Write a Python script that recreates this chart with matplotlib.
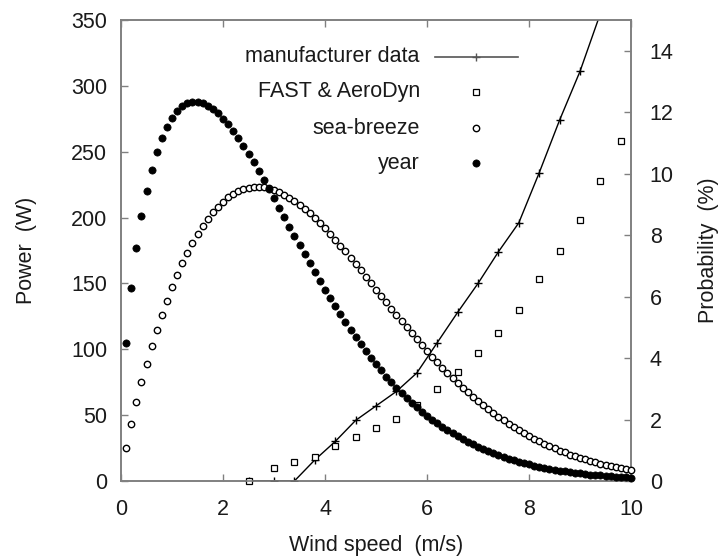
import matplotlib
matplotlib.use("Agg")
import matplotlib.pyplot as plt

plt.rcParams['font.family'] = ['Liberation Sans', 'DejaVu Sans']

# ---------------- data ----------------
dist_speed = [0.1, 0.2, 0.3, 0.4, 0.5, 0.6, 0.7, 0.8, 0.9, 1.0,
              1.1, 1.2, 1.3, 1.4, 1.5, 1.6, 1.7, 1.8, 1.9, 2.0,
              2.1, 2.2, 2.3, 2.4, 2.5, 2.6, 2.7, 2.8, 2.9, 3.0,
              3.1, 3.2, 3.3, 3.4, 3.5, 3.6, 3.7, 3.8, 3.9, 4.0,
              4.1, 4.2, 4.3, 4.4, 4.5, 4.6, 4.7, 4.8, 4.9, 5.0,
              5.1, 5.2, 5.3, 5.4, 5.5, 5.6, 5.7, 5.8, 5.9, 6.0,
              6.1, 6.2, 6.3, 6.4, 6.5, 6.6, 6.7, 6.8, 6.9, 7.0,
              7.1, 7.2, 7.3, 7.4, 7.5, 7.6, 7.7, 7.8, 7.9, 8.0,
              8.1, 8.2, 8.3, 8.4, 8.5, 8.6, 8.7, 8.8, 8.9, 9.0,
              9.1, 9.2, 9.3, 9.4, 9.5, 9.6, 9.7, 9.8, 9.9, 10.0]

year_prob = [4.49, 6.28, 7.59, 8.61, 9.45, 10.13, 10.69, 11.15, 11.52, 11.81,
             12.03, 12.19, 12.29, 12.33, 12.33, 12.29, 12.21, 12.10, 11.96, 11.79,
             11.60, 11.38, 11.15, 10.90, 10.64, 10.37, 10.08, 9.79, 9.50, 9.20,
             8.89, 8.59, 8.28, 7.98, 7.68, 7.38, 7.08, 6.79, 6.50, 6.22,
             5.95, 5.68, 5.42, 5.16, 4.92, 4.68, 4.45, 4.22, 4.00, 3.80,
             3.60, 3.40, 3.22, 3.04, 2.87, 2.71, 2.55, 2.40, 2.26, 2.13,
             2.00, 1.88, 1.76, 1.65, 1.55, 1.45, 1.36, 1.27, 1.19, 1.11,
             1.04, 0.97, 0.90, 0.84, 0.78, 0.73, 0.68, 0.63, 0.58, 0.54,
             0.50, 0.47, 0.43, 0.40, 0.37, 0.34, 0.32, 0.29, 0.27, 0.25,
             0.23, 0.21, 0.20, 0.18, 0.17, 0.15, 0.14, 0.13, 0.12, 0.11]

seabreeze_prob = [1.08, 1.87, 2.57, 3.22, 3.82, 4.39, 4.91, 5.41, 5.87, 6.31,
                  6.71, 7.08, 7.43, 7.75, 8.04, 8.30, 8.54, 8.75, 8.93, 9.09,
                  9.23, 9.34, 9.43, 9.50, 9.54, 9.56, 9.57, 9.55, 9.52, 9.47,
                  9.40, 9.32, 9.22, 9.11, 8.99, 8.86, 8.71, 8.55, 8.39, 8.22,
                  8.04, 7.85, 7.66, 7.47, 7.27, 7.06, 6.86, 6.65, 6.44, 6.23,
                  6.03, 5.82, 5.61, 5.41, 5.20, 5.00, 4.80, 4.61, 4.42, 4.23,
                  4.05, 3.87, 3.69, 3.52, 3.36, 3.19, 3.04, 2.89, 2.74, 2.60,
                  2.46, 2.33, 2.21, 2.08, 1.97, 1.86, 1.75, 1.65, 1.55, 1.46,
                  1.37, 1.29, 1.21, 1.13, 1.06, 0.99, 0.93, 0.86, 0.81, 0.75,
                  0.70, 0.65, 0.61, 0.56, 0.52, 0.49, 0.45, 0.42, 0.39, 0.36]

mfr_speed = [2.5, 3.0, 3.4, 3.8, 4.2, 4.6, 5.0, 5.4, 5.8, 6.2, 6.6, 7.0, 7.4, 7.8, 8.2, 8.6, 9.0, 9.4]
mfr_power = [0, 0, 0, 16, 30, 46, 57, 68, 82, 105, 128, 150, 174, 196, 234, 274, 311, 355]

fast_speed = [2.5, 3.0, 3.4, 3.8, 4.2, 4.6, 5.0, 5.4, 5.8, 6.2, 6.6, 7.0, 7.4, 7.8, 8.2, 8.6, 9.0, 9.4, 9.8]
fast_power = [0, 10, 14.6, 18.6, 26.5, 33.5, 40.6, 47.2, 57.5, 70, 82.7, 97, 112.5, 129.6, 153, 175, 198, 228, 258]

x_ticks = [0, 2, 4, 6, 8, 10]
power_ticks = [0, 50, 100, 150, 200, 250, 300, 350]
prob_ticks = [0, 2, 4, 6, 8, 10, 12, 14]

labels = ["manufacturer data", "FAST & AeroDyn", "sea-breeze", "year"]

# ---------------- styles ----------------
FS = 15.5
axis_col = '#808080'
txt_col = '#1a1a1a'

fig = plt.figure(figsize=(7.26, 5.60), dpi=100)
ax = fig.add_axes([121/726, 1 - 481/560, 510/726, 461/560])
ax2 = ax.twinx()

st_mfr = dict(color='black', lw=1.0, marker='+', ms=6, mew=1.0)
st_fast = dict(ls='none', marker='s', ms=5, mfc='white', mec='black', mew=0.9)
st_sea = dict(ls='none', marker='o', ms=4.6, mfc='white', mec='black', mew=1.0)
st_year = dict(ls='none', marker='o', ms=5.2, mfc='black', mec='black', mew=0.5)

ax.plot(mfr_speed, mfr_power, **st_mfr, zorder=3)
ax.plot(fast_speed, fast_power, **st_fast, clip_on=False, zorder=3)
ax2.plot(dist_speed, seabreeze_prob, **st_sea, clip_on=False, zorder=3)
ax2.plot(dist_speed, year_prob, **st_year, clip_on=False, zorder=4)

ax.set_xlim(0, 10)
ax.set_ylim(0, 350)
ax2.set_ylim(0, 15)

ax.set_xticks(x_ticks)
ax.set_yticks(power_ticks)
ax2.set_yticks(prob_ticks)

for a in (ax, ax2):
    for s in a.spines.values():
        s.set_color(axis_col)
        s.set_linewidth(1.2)
    a.set_facecolor('none')

ax.tick_params(axis='x', direction='in', top=True, bottom=True, length=5, width=1,
               color=axis_col, labelsize=FS, labelcolor=txt_col, pad=13)
ax.tick_params(axis='y', direction='in', left=True, right=False, length=5, width=1,
               color=axis_col, labelsize=FS, labelcolor=txt_col, pad=10)
ax2.tick_params(axis='y', direction='in', right=True, left=False, length=5, width=1,
                color=axis_col, labelsize=FS, labelcolor=txt_col, pad=13.5)

ax.set_xlabel("Wind speed  (m/s)", fontsize=FS, color=txt_col, labelpad=11)
ax.set_ylabel("Power  (W)", fontsize=FS, color=txt_col)
ax2.set_ylabel("Probability  (%)", fontsize=FS, color=txt_col)
ax.yaxis.set_label_coords(-0.1655, 0.5)
ax2.yaxis.set_label_coords(1.1314, 0.5)

# ---------------- legend (gnuplot style: text right-aligned, sample to the right) ----------------
styles = [st_mfr, st_fast, st_sea, st_year]
rows_y = [0.920, 0.8445, 0.765, 0.689]
for lab, st, yy in zip(labels, styles, rows_y):
    ax.text(0.586, yy, lab, transform=ax.transAxes, ha='right', va='center',
            fontsize=FS, color=txt_col)
    if st is st_mfr:
        ax.plot([0.616, 0.778], [yy, yy], transform=ax.transAxes, color='#555555',
                lw=1.2, clip_on=False)
        ax.plot([0.697], [yy], transform=ax.transAxes, ls='none', marker='+',
                ms=6, mew=1.0, color='#555555', clip_on=False)
    else:
        ax.plot([0.697], [yy], transform=ax.transAxes, **st, clip_on=False)

fig.savefig("out.png", dpi=100)
